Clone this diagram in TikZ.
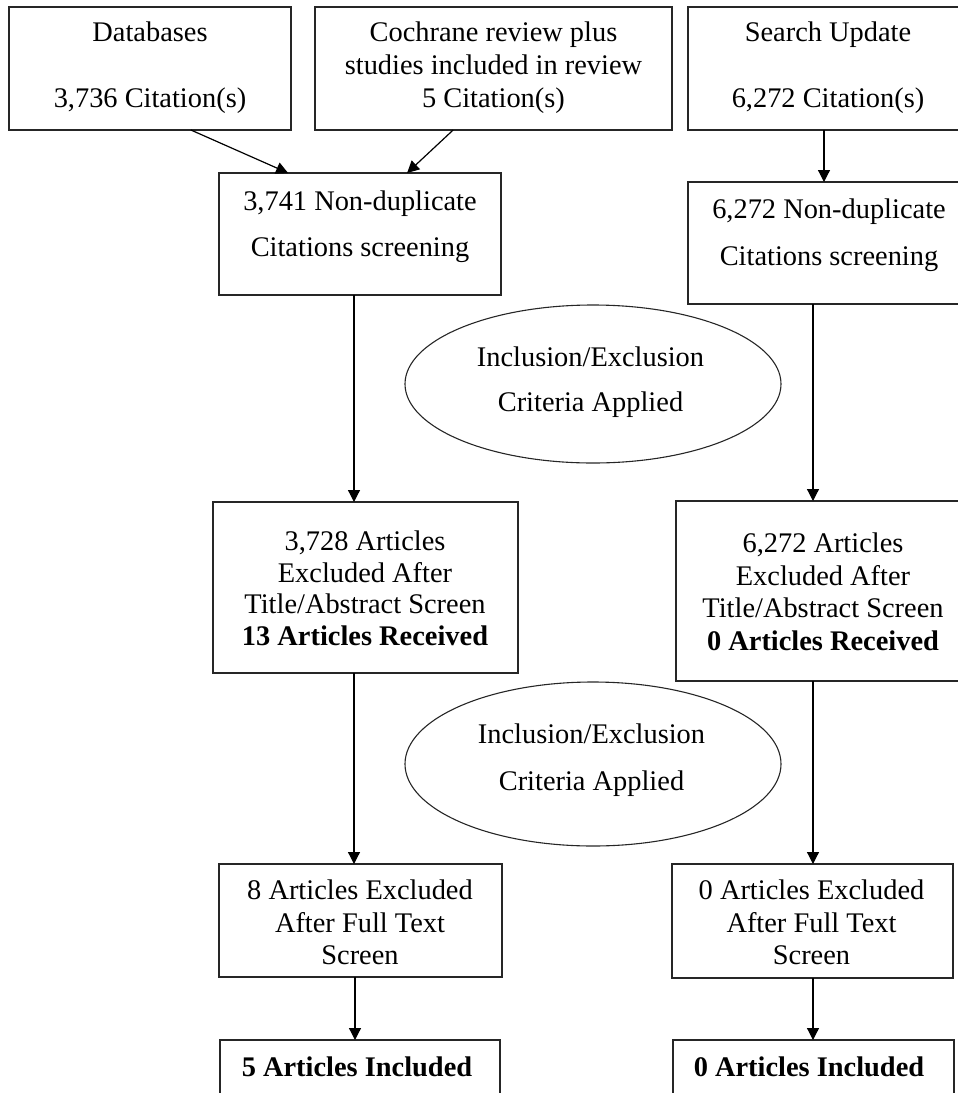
\documentclass[tikz,border=0pt]{standalone}
\usepackage{fontspec}
\setmainfont{Liberation Serif}
\usetikzlibrary{arrows.meta,calc,shapes.geometric}
\begin{document}
\begin{tikzpicture}[x=0.5pt,y=-0.5pt,
  boxnode/.style={draw=black!85,line width=0.65pt,rectangle,inner sep=0pt,outer sep=0pt},
  ovalnode/.style={draw=black!85,line width=0.55pt,ellipse,inner sep=0pt,outer sep=0pt},
  txt/.style={inner sep=0pt,align=center,font=\fontsize{14.2pt}{16.4pt}\selectfont},
  arr/.style={draw=black,line width=0.6pt,-{Triangle[length=6pt,width=6pt]}}]
\useasboundingbox (0,0) rectangle (958,1093);
\clip (0,0) rectangle (958,1093);
% boxes
\node[boxnode,minimum width=141pt,minimum height=61.5pt] (b1) at (150,68.5) {};
\node[boxnode,minimum width=178.5pt,minimum height=61.5pt] (b2) at (493.5,68.5) {};
\node[boxnode,minimum width=138.5pt,minimum height=61.5pt] (b3) at (826.5,68.5) {};
\node[boxnode,minimum width=141pt,minimum height=61pt] (b4) at (360,234) {};
\node[boxnode,minimum width=138.5pt,minimum height=61pt] (b5) at (826.5,243) {};
\node[boxnode,minimum width=152.5pt,minimum height=85.5pt] (b6) at (365.5,587.5) {};
\node[boxnode,minimum width=144.5pt,minimum height=90pt] (b7) at (820.5,591) {};
\node[boxnode,minimum width=141.5pt,minimum height=56.5pt] (b8) at (360.5,920.5) {};
\node[boxnode,minimum width=140.5pt,minimum height=57pt] (b9) at (812.5,921) {};
\node[boxnode,minimum width=140pt,minimum height=35pt] (b10) at (360,1075) {};
\node[boxnode,minimum width=140.5pt,minimum height=35pt] (b11) at (813.5,1075) {};
% ellipses
\node[ovalnode,minimum width=188pt,minimum height=79pt] (e1) at (593,384) {};
\node[ovalnode,minimum width=188pt,minimum height=82pt] (e2) at (593,764) {};
% texts
\node[txt] (t1) at (150,68) {\strut Databases\\[16.4pt]3,736 Citation(s)\strut};
\node[txt] (t2) at (493.5,68) {\strut Cochrane review plus\\studies included in review\\5 Citation(s)\strut};
\node[txt] (t3) at (828,68) {\strut Search Update\\[16.4pt]6,272 Citation(s)\strut};
\node[txt] (t4) at (360,226.5) {\strut 3,741 Non-duplicate\\[6.6pt]Citations screening\strut};
\node[txt] (t5) at (829,235) {\strut 6,272 Non-duplicate\\[7.1pt]Citations screening\strut};
\node[txt] (t6) at (365,591.5) {\strut 3,728 Articles\\[-0.7pt]Excluded After\\[-0.7pt]Title/Abstract Screen\\[-0.7pt]\textbf{13 Articles Received}\strut};
\node[txt] (t7) at (823,595) {\strut 6,272 Articles\\[-0.2pt]Excluded After\\[-0.2pt]Title/Abstract Screen\\[-0.2pt]\textbf{0 Articles Received}\strut};
\node[txt] (t8) at (360,925.5) {\strut 8 Articles Excluded\\After Full Text\\Screen\strut};
\node[txt] (t9) at (811.5,925.5) {\strut 0 Articles Excluded\\After Full Text\\Screen\strut};
\node[txt] (t10) at (357,1069.5) {\strut\textbf{5 Articles Included}\strut};
\node[txt] (t11) at (809,1069.5) {\strut\textbf{0 Articles Included}\strut};
\node[txt] (te1) at (590.5,382) {\strut Inclusion/Exclusion\\[6.1pt]Criteria Applied\strut};
\node[txt] (te2) at (591.5,760) {\strut Inclusion/Exclusion\\[7.1pt]Criteria Applied\strut};
% connectors
\coordinate (cL) at (354,0);
\coordinate (cLb) at (355,0);
\coordinate (cR) at (813,0);
\coordinate (cT) at (824,0);
\draw[arr] ($(b1.south west)!0.645!(b1.south east)$) -- ($(b4.north west)!0.245!(b4.north east)$);
\draw[arr] ($(b2.south west)!0.387!(b2.south east)$) -- ($(b4.north west)!0.667!(b4.north east)$);
\draw[arr] (b3.south -| cT) -- (b5.north -| cT);
\draw[arr] (b4.south -| cL) -- (b6.north -| cL);
\draw[arr] (b5.south -| cR) -- (b7.north -| cR);
\draw[arr] (b6.south -| cL) -- (b8.north -| cL);
\draw[arr] (b7.south -| cR) -- (b9.north -| cR);
\draw[arr] (b8.south -| cLb) -- (b10.north -| cLb);
\draw[arr] (b9.south -| cR) -- (b11.north -| cR);
\end{tikzpicture}
\end{document}
